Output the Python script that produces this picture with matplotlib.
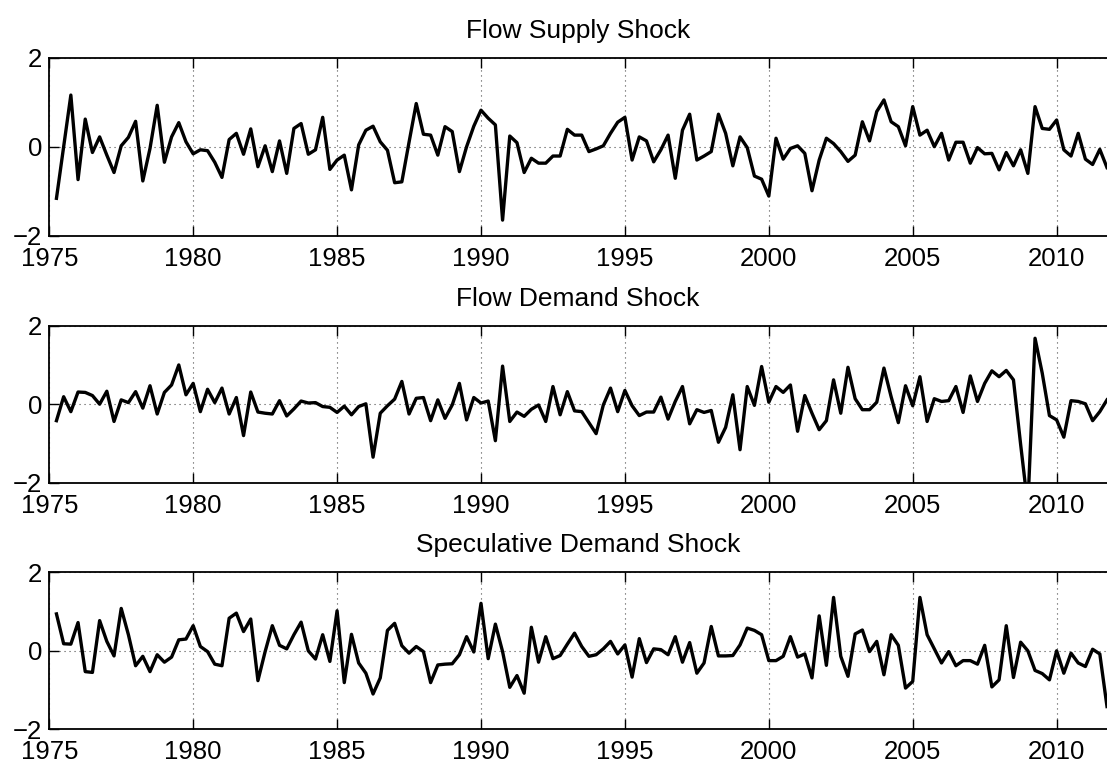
import numpy as np
import matplotlib
matplotlib.use('Agg')
import matplotlib.pyplot as plt

plt.rcParams['font.family'] = ['Liberation Sans', 'DejaVu Sans']

# quarterly dates, 1975Q2 .. 2011Q4
dates = np.arange(1975.25, 2011.76, 0.25)

titles = ['Flow Supply Shock', 'Flow Demand Shock', 'Speculative Demand Shock']

flow_supply = [
    -1.16, 0.00, 1.16, -0.74, 0.62, -0.13, 0.22, -0.19, -0.58, 0.02,
    0.21, 0.57, -0.77, -0.04, 0.93, -0.35, 0.22, 0.54, 0.11, -0.16,
    -0.07, -0.09, -0.35, -0.69, 0.16, 0.30, -0.17, 0.40, -0.45, 0.02,
    -0.56, 0.13, -0.60, 0.41, 0.52, -0.17, -0.07, 0.66, -0.51, -0.30,
    -0.19, -0.97, 0.04, 0.37, 0.46, 0.11, -0.08, -0.81, -0.79, 0.10,
    0.97, 0.28, 0.26, -0.19, 0.45, 0.34, -0.56, 0.00, 0.46, 0.82,
    0.64, 0.49, -1.65, 0.24, 0.09, -0.58, -0.26, -0.37, -0.37, -0.21,
    -0.21, 0.39, 0.26, 0.26, -0.11, -0.05, 0.02, 0.30, 0.55, 0.66,
    -0.30, 0.22, 0.13, -0.34, -0.07, 0.26, -0.71, 0.37, 0.73, -0.30,
    -0.21, -0.11, 0.73, 0.30, -0.43, 0.22, -0.02, -0.66, -0.73, -1.11,
    0.19, -0.28, -0.04, 0.02, -0.15, -0.99, -0.30, 0.19, 0.07, -0.11,
    -0.33, -0.19, 0.56, 0.13, 0.79, 1.05, 0.56, 0.45, 0.02, 0.90,
    0.26, 0.37, 0.00, 0.30, -0.30, 0.10, 0.10, -0.37, -0.02, -0.16,
    -0.15, -0.52, -0.13, -0.43, -0.07, -0.60, 0.90, 0.41, 0.39, 0.60,
    -0.07, -0.21, 0.30, -0.28, -0.40, -0.06, -0.47,
]

flow_demand = [
    -0.42, 0.19, -0.19, 0.31, 0.30, 0.22, 0.00, 0.33, -0.44, 0.11,
    0.04, 0.32, -0.10, 0.47, -0.25, 0.30, 0.49, 1.00, 0.24, 0.53,
    -0.19, 0.38, 0.04, 0.41, -0.25, 0.17, -0.80, 0.31, -0.20, -0.23,
    -0.25, 0.09, -0.30, -0.12, 0.08, 0.03, 0.04, -0.06, -0.08, -0.21,
    -0.05, -0.27, -0.06, 0.01, -1.35, -0.23, -0.04, 0.13, 0.58, -0.25,
    0.15, 0.17, -0.42, 0.11, -0.36, -0.02, 0.53, -0.40, 0.17, 0.03,
    0.08, -0.93, 0.97, -0.44, -0.20, -0.31, -0.13, -0.02, -0.44, 0.45,
    -0.27, 0.32, -0.17, -0.19, -0.47, -0.75, -0.02, 0.41, -0.19, 0.35,
    -0.04, -0.29, -0.20, -0.20, 0.18, -0.38, 0.07, 0.45, -0.50, -0.14,
    -0.21, -0.16, -0.97, -0.59, 0.24, -1.16, 0.45, -0.03, 0.96, 0.05,
    0.45, 0.30, 0.49, -0.69, 0.22, -0.23, -0.65, -0.42, 0.62, -0.23,
    0.94, 0.14, -0.14, -0.14, 0.05, 0.92, 0.19, -0.47, 0.47, -0.04,
    0.70, -0.44, 0.14, 0.07, 0.09, 0.45, -0.21, 0.72, 0.07, 0.53,
    0.85, 0.70, 0.86, 0.62, -1.03, -2.60, 1.68, 0.79, -0.29, -0.40,
    -0.84, 0.09, 0.07, 0.01, -0.42, -0.19, 0.11,
]

speculative_demand = [
    0.94, 0.18, 0.17, 0.72, -0.53, -0.55, 0.77, 0.24, -0.13, 1.08,
    0.41, -0.38, -0.14, -0.53, -0.10, -0.29, -0.16, 0.28, 0.30, 0.64,
    0.11, -0.02, -0.34, -0.38, 0.83, 0.96, 0.49, 0.81, -0.76, -0.02,
    0.64, 0.14, 0.05, 0.41, 0.73, 0.00, -0.21, 0.41, -0.27, 1.02,
    -0.81, 0.42, -0.31, -0.57, -1.10, -0.69, 0.52, 0.70, 0.13, -0.06,
    0.11, -0.02, -0.81, -0.36, -0.34, -0.33, -0.10, 0.36, -0.03, 1.21,
    -0.20, 0.68, -0.02, -0.93, -0.63, -1.08, 0.60, -0.29, 0.36, -0.20,
    -0.12, 0.17, 0.45, 0.11, -0.14, -0.10, 0.05, 0.24, -0.08, 0.15,
    -0.67, 0.31, -0.30, 0.05, 0.03, -0.10, 0.36, -0.29, 0.21, -0.57,
    -0.31, 0.62, -0.13, -0.13, -0.12, 0.15, 0.58, 0.52, 0.41, -0.25,
    -0.25, -0.14, 0.36, -0.16, -0.08, -0.69, 0.89, -0.37, 1.36, -0.14,
    -0.65, 0.43, 0.53, -0.02, 0.24, -0.61, 0.41, 0.14, -0.95, -0.78,
    1.36, 0.41, 0.05, -0.31, -0.02, -0.38, -0.25, -0.25, -0.34, 0.14,
    -0.92, -0.74, 0.64, -0.68, 0.22, 0.00, -0.50, -0.58, -0.74, 0.00,
    -0.57, -0.06, -0.31, -0.40, 0.04, -0.08, -1.42,
]

xticks = [1975, 1980, 1985, 1990, 1995, 2000, 2005, 2010]
yticks = [-2, 0, 2]

fig = plt.figure(figsize=(11.07, 7.64), dpi=100)

# [left, bottom, width, height] in figure fractions
boxes = [
    [0.0445, 0.6915, 0.9555, 0.2330],
    [0.0445, 0.3682, 0.9555, 0.2055],
    [0.0445, 0.0454, 0.9555, 0.2055],
]

for box, title, series in zip(boxes, titles, [flow_supply, flow_demand, speculative_demand]):
    ax = fig.add_axes(box)
    ax.plot(dates, series, color='black', linewidth=2.4)
    ax.set_xlim(1975, 2011.75)
    ax.set_ylim(-2, 2)
    ax.set_xticks(xticks)
    ax.set_yticks(yticks)
    ax.set_yticklabels(['\u22122', '0', '2'])
    ax.grid(True, linestyle=(0, (1, 3.5)), color='0.3', linewidth=0.8)
    ax.tick_params(direction='in', length=7.5, width=1, labelsize=18.5,
                   top=True, right=False)
    ax.tick_params(axis='x', pad=8)
    ax.tick_params(axis='y', pad=5)
    ax.spines['right'].set_visible(False)
    for s in ['left', 'top', 'bottom']:
        ax.spines[s].set_linewidth(1.3)
    ax.set_title(title, fontsize=19, pad=14.5)

fig.savefig('out.png', dpi=100)
